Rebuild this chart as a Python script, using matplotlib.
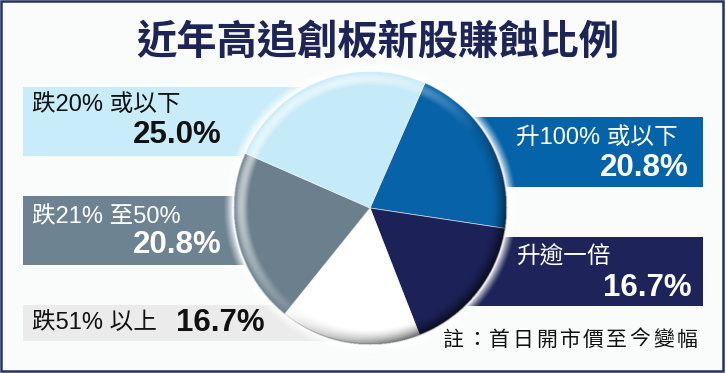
import numpy as np
import matplotlib
matplotlib.use("Agg")
import matplotlib.pyplot as plt
from matplotlib.patches import Rectangle

# ---- data ----
title = "近年高追創板新股賺蝕比例"
categories = ["升100% 或以下", "升逾一倍", "跌51% 以上", "跌21% 至50%", "跌20% 或以下"]
shares = [20.8, 16.7, 16.7, 20.8, 25.0]
note = "註：首日開市價至今變幅"

# ---- styling ----
slice_colors = ["#0762A8", "#1C2258", "#FFFFFF", "#6B7F8D", "#C5EAF8"]
banner_colors = ["#0563A9", "#1E2459", "#EBEBEB", "#6E8392", "#C8ECFA"]
text_colors = ["white", "white", "#111111", "white", "#111111"]
navy = "#1E2456"

W, H = 726, 373
fig = plt.figure(figsize=(W / 100, H / 100), dpi=100, facecolor="#FAFCFC")
ax = fig.add_axes([0, 0, 1, 1])
ax.set_facecolor("#FAFCFC")


def Y(y):
    """Convert a top-down pixel row into axis coordinates."""
    return H - y


sans = ["Liberation Sans", "Noto Sans CJK TC"]
cjk = ["Noto Sans CJK TC", "DejaVu Sans"]

cx, cy, R = 370, Y(208), 137

# ---- label banners (they run underneath the pie) ----
# (x0, x1, top, bottom) per category
banners = [
    (cx, 703, 117, 187),
    (cx, 703, 237, 306),
    (23, cx, 305, 341),
    (23, cx, 196, 265),
    (23, cx, 87, 156),
]
for (x0, x1, t, b), c in zip(banners, banner_colors):
    ax.add_patch(Rectangle((x0, Y(b)), x1 - x0, b - t, facecolor=c,
                           edgecolor="none", zorder=1))

# ---- pie ----
ax.pie(shares, colors=slice_colors, startangle=66.3, counterclock=False,
       center=(cx, cy), radius=R, frame=True,
       wedgeprops=dict(edgecolor=(1, 1, 1, 0.6), linewidth=0.6, zorder=2))

# bevelled rim and soft halo around the pie
pad = 10
step = 0.5
xs = np.arange(cx - R - pad, cx + R + pad, step)
ys = np.arange(cy - R - pad, cy + R + pad, step)
XX, YY = np.meshgrid(xs, ys)
D = np.hypot(XX - cx, YY - cy)
phi = np.arctan2(YY - cy, XX - cx)
light = np.cos(phi - np.deg2rad(140))
rgba = np.zeros(XX.shape + (4,))
rim_w = 16.0
inside = (D <= R) & (D > R - rim_w)
t = np.clip((D - (R - rim_w)) / rim_w, 0, 1)
# shadow toward lower right
shadow = np.where(inside, np.clip(-light, 0, 1) * t ** 1.6 * 0.75, 0)
# highlight toward upper left
hi = np.where(inside, np.clip(light + 0.25, 0, 1) * np.sin(np.pi * t) ** 1.5 * 0.55, 0)
# halo outside the edge
out = (D > R) & (D < R + pad)
halo = np.where(out, (1 - (D - R) / pad) ** 1.3 * 0.95, 0)
edge_line = np.where(np.abs(D - R) < 1.0, 0.7, 0)

white_a = np.clip(hi + halo + edge_line, 0, 1)
dark_a = shadow
alpha = np.clip(white_a + dark_a, 0, 1)
mix = np.where(alpha > 0, white_a / np.maximum(alpha, 1e-9), 0)
rgba[..., 0] = mix
rgba[..., 1] = mix
rgba[..., 2] = mix
rgba[..., 3] = alpha
ax.imshow(rgba, extent=(xs[0], xs[-1] + step, ys[0], ys[-1] + step),
          origin="lower", interpolation="bilinear", zorder=3)

# ---- labels ----
# name position (x, y, ha), value position (x, y, ha)
label_pos = [
    ((516, 138, "left"), (689, 168, "right")),
    ((516, 257, "left"), (692, 288, "right")),
    ((32, 323, "left"), (265, 323, "right")),
    ((32, 217, "left"), (222, 245, "right")),
    ((32, 105, "left"), (222, 135, "right")),
]
for cat, val, col, ((nx, ny, nha), (vx, vy, vha)) in zip(
        categories, shares, text_colors, label_pos):
    ax.text(nx, Y(ny), cat, ha=nha, va="center", color=col, fontsize=17,
            family=sans, zorder=5)
    ax.text(vx, Y(vy), f"{val:.1f}%", ha=vha, va="center", color=col,
            fontsize=22.5, fontweight="bold", family=sans, zorder=5)

# ---- title ----
ax.text(378, Y(42), title, ha="center", va="center", color=navy,
        fontsize=29, fontweight="heavy", family=cjk, zorder=5)

# ---- footnote, spaced character by character ----
nx0, nstep = 453, 23.4
for i, ch in enumerate(note):
    ax.text(nx0 + i * nstep, Y(340), ch, ha="center", va="center",
            color="#111111", fontsize=15, fontweight="light", family=cjk,
            zorder=5)

# ---- frame ----
ax.add_patch(Rectangle((1, Y(371)), 722, 370, facecolor="none",
                       edgecolor="#25306A", linewidth=1.8, zorder=6))

ax.set_xlim(0, W)
ax.set_ylim(0, H)
ax.set_aspect("auto")
ax.axis("off")

fig.savefig("out.png", dpi=100, facecolor=fig.get_facecolor())
